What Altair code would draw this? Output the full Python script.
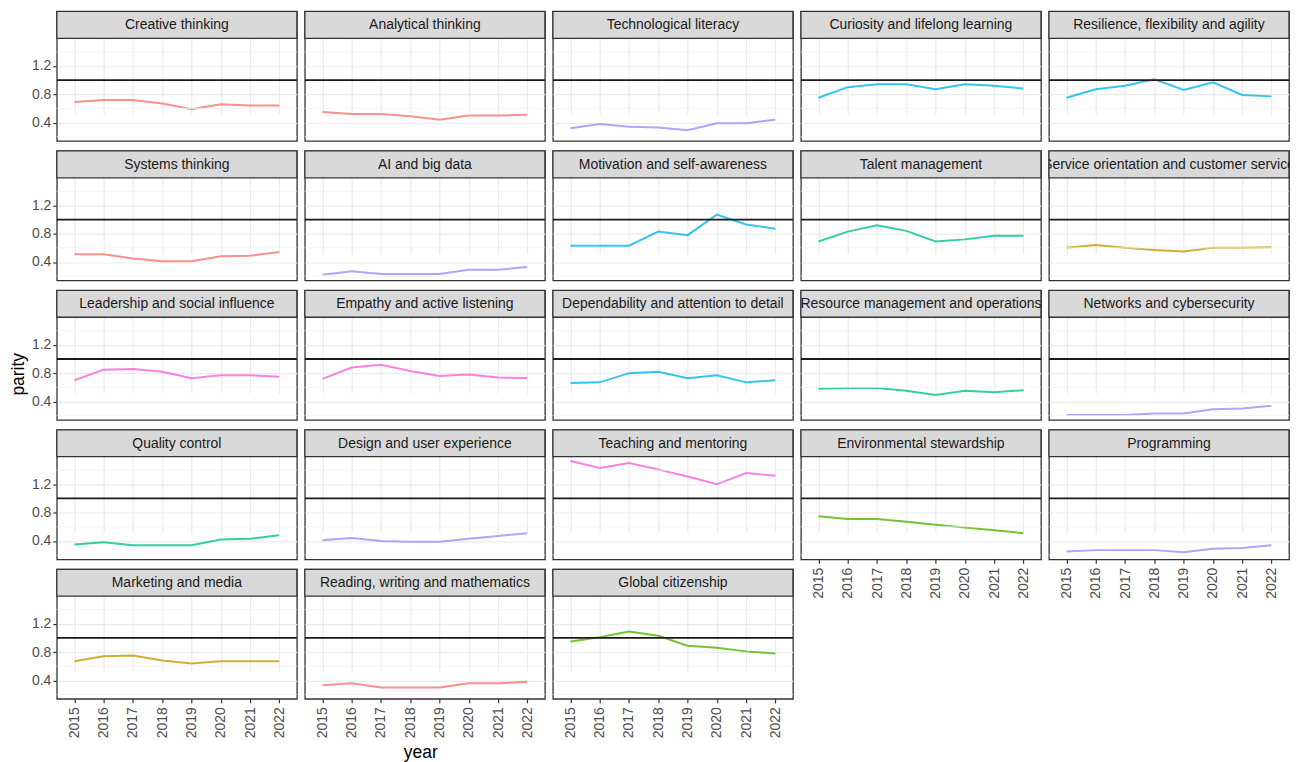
import altair as alt
import pandas as pd

years = [2015, 2016, 2017, 2018, 2019, 2020, 2021, 2022]

skills = [
    "Creative thinking", "Analytical thinking", "Technological literacy",
    "Curiosity and lifelong learning", "Resilience, flexibility and agility",
    "Systems thinking", "AI and big data", "Motivation and self-awareness",
    "Talent management", "Service orientation and customer service",
    "Leadership and social influence", "Empathy and active listening",
    "Dependability and attention to detail", "Resource management and operations",
    "Networks and cybersecurity",
    "Quality control", "Design and user experience", "Teaching and mentoring",
    "Environmental stewardship", "Programming",
    "Marketing and media", "Reading, writing and mathematics", "Global citizenship",
]

groups = [
    "c1", "c1", "c6", "c5", "c5",
    "c1", "c6", "c5", "c4", "c2",
    "c7", "c7", "c5", "c4", "c6",
    "c4", "c6", "c7", "c3", "c6",
    "c2", "c1", "c3",
]

parity = [
    [0.69, 0.72, 0.72, 0.67, 0.59, 0.66, 0.64, 0.64],
    [0.55, 0.52, 0.52, 0.49, 0.44, 0.50, 0.50, 0.51],
    [0.32, 0.38, 0.34, 0.33, 0.29, 0.39, 0.39, 0.44],
    [0.75, 0.90, 0.94, 0.94, 0.87, 0.94, 0.92, 0.88],
    [0.75, 0.87, 0.92, 1.01, 0.86, 0.97, 0.79, 0.77],
    [0.51, 0.51, 0.45, 0.41, 0.41, 0.48, 0.49, 0.54],
    [0.22, 0.27, 0.23, 0.23, 0.23, 0.29, 0.29, 0.33],
    [0.63, 0.63, 0.63, 0.83, 0.78, 1.07, 0.93, 0.87],
    [0.69, 0.83, 0.92, 0.84, 0.69, 0.72, 0.77, 0.77],
    [0.60, 0.64, 0.60, 0.57, 0.55, 0.60, 0.60, 0.61],
    [0.70, 0.85, 0.86, 0.82, 0.73, 0.77, 0.77, 0.75],
    [0.72, 0.88, 0.92, 0.83, 0.76, 0.78, 0.74, 0.73],
    [0.66, 0.67, 0.80, 0.82, 0.73, 0.77, 0.67, 0.70],
    [0.58, 0.59, 0.59, 0.55, 0.49, 0.55, 0.53, 0.56],
    [0.21, 0.21, 0.21, 0.23, 0.23, 0.29, 0.30, 0.34],
    [0.35, 0.38, 0.34, 0.34, 0.34, 0.42, 0.43, 0.48],
    [0.41, 0.44, 0.40, 0.39, 0.39, 0.43, 0.47, 0.51],
    [1.53, 1.43, 1.50, 1.41, 1.31, 1.20, 1.36, 1.32],
    [0.75, 0.71, 0.71, 0.67, 0.63, 0.59, 0.55, 0.51],
    [0.25, 0.27, 0.27, 0.27, 0.24, 0.29, 0.30, 0.34],
    [0.67, 0.74, 0.75, 0.68, 0.64, 0.67, 0.67, 0.67],
    [0.33, 0.36, 0.30, 0.30, 0.30, 0.36, 0.36, 0.38],
    [0.95, 1.01, 1.09, 1.03, 0.89, 0.86, 0.81, 0.78],
]

group_domain = ["c1", "c2", "c3", "c4", "c5", "c6", "c7"]
group_colors = ["#F8766D", "#C49A00", "#53B400", "#00C094", "#00B6EB", "#A58AFF", "#FB61D7"]

y_major = [0.4, 0.8, 1.2]
y_minor = [0.2, 0.6, 1.0, 1.4]
reference_level = 1.0

rows = []
for s, g, vals in zip(skills, groups, parity):
    for yr, v in zip(years, vals):
        rows.append({"skill": s, "group": g, "year": yr, "parity": v})
df = pd.DataFrame(rows)
minor_df = pd.DataFrame({"v": y_minor})

W, H, STRIP = 241, 130, 27
NCOL = 5
FONT = "Liberation Sans"


def y_scale():
    return alt.Scale(domain=[0.14, 1.59], range=[H, STRIP], nice=False, zero=False)


def panel(i, skill):
    col = i % NCOL
    bottom = i + NCOL >= len(skills)
    left = col == 0
    sub = df[df["skill"] == skill]

    x_axis = alt.Axis(
        title=None, labelAngle=270, domain=False, grid=True,
        labels=bottom, ticks=bottom, tickSize=4, tickColor="#333333", tickWidth=1.2,
        labelFontSize=14, labelColor="#4d4d4d", labelPadding=4,
        gridColor="#ebebeb", gridWidth=1.2,
    )
    y_axis = alt.Axis(
        title=None, values=y_major, format=".1f", domain=False, grid=True,
        labels=left, ticks=left, tickSize=4, tickWidth=1.2, tickColor="#333333",
        gridColor="#ebebeb", gridWidth=1.2,
        labelFontSize=14, labelColor="#4d4d4d", labelPadding=2,
    )

    line = alt.Chart(sub).mark_line(strokeWidth=2, opacity=0.8).encode(
        x=alt.X("year:O", scale=alt.Scale(type="point", padding=0.6), axis=x_axis),
        y=alt.Y("parity:Q", scale=y_scale(), axis=y_axis),
        color=alt.Color("group:N", scale=alt.Scale(domain=group_domain, range=group_colors), legend=None),
    )
    minor = alt.Chart(minor_df).mark_rule(color="#f2f2f2", strokeWidth=0.8).encode(
        y=alt.Y("v:Q", scale=y_scale())
    )
    hline = alt.Chart(sub).mark_rule(color="#1a1a1a", strokeWidth=1.8).encode(
        y=alt.Y(datum=reference_level, scale=y_scale())
    ).transform_filter(alt.datum.year == years[0])
    strip = alt.Chart(sub).mark_rect(fill="#d9d9d9", stroke="#333333", strokeWidth=1.3).encode(
        x=alt.value(0), x2=alt.value(W), y=alt.value(0), y2=alt.value(STRIP)
    ).transform_filter(alt.datum.year == years[0])
    strip_text = alt.Chart(sub).mark_text(
        clip=True, fontSize=14, color="#1a1a1a", font=FONT, baseline="middle", align="center"
    ).encode(
        x=alt.value(W / 2), y=alt.value(STRIP / 2 + 0.5), text="skill:N"
    ).transform_filter(alt.datum.year == years[0])
    return alt.layer(line, minor, hline, strip, strip_text).properties(width=W, height=H)


panels = [panel(i, s) for i, s in enumerate(skills)]

grid = alt.concat(
    *panels, columns=NCOL, spacing={"row": 10, "column": 8}, bounds="flush"
).properties(
    title=alt.TitleParams("parity", orient="left", anchor="middle", fontSize=17.5,
                          fontWeight="normal", color="black", font=FONT, offset=3)
)

chart = alt.vconcat(grid).properties(
    title=alt.TitleParams("year", orient="bottom", anchor="start", align="center",
                          frame="bounds", dx=412, fontSize=17.5, fontWeight="normal",
                          color="black", font=FONT, offset=6),
    padding={"left": 2, "top": 0, "right": 0, "bottom": 0},
).configure(font=FONT).configure_view(stroke="#333333", strokeWidth=1.3)

chart.save("out.html", embed_options={"renderer": "svg", "actions": False})
